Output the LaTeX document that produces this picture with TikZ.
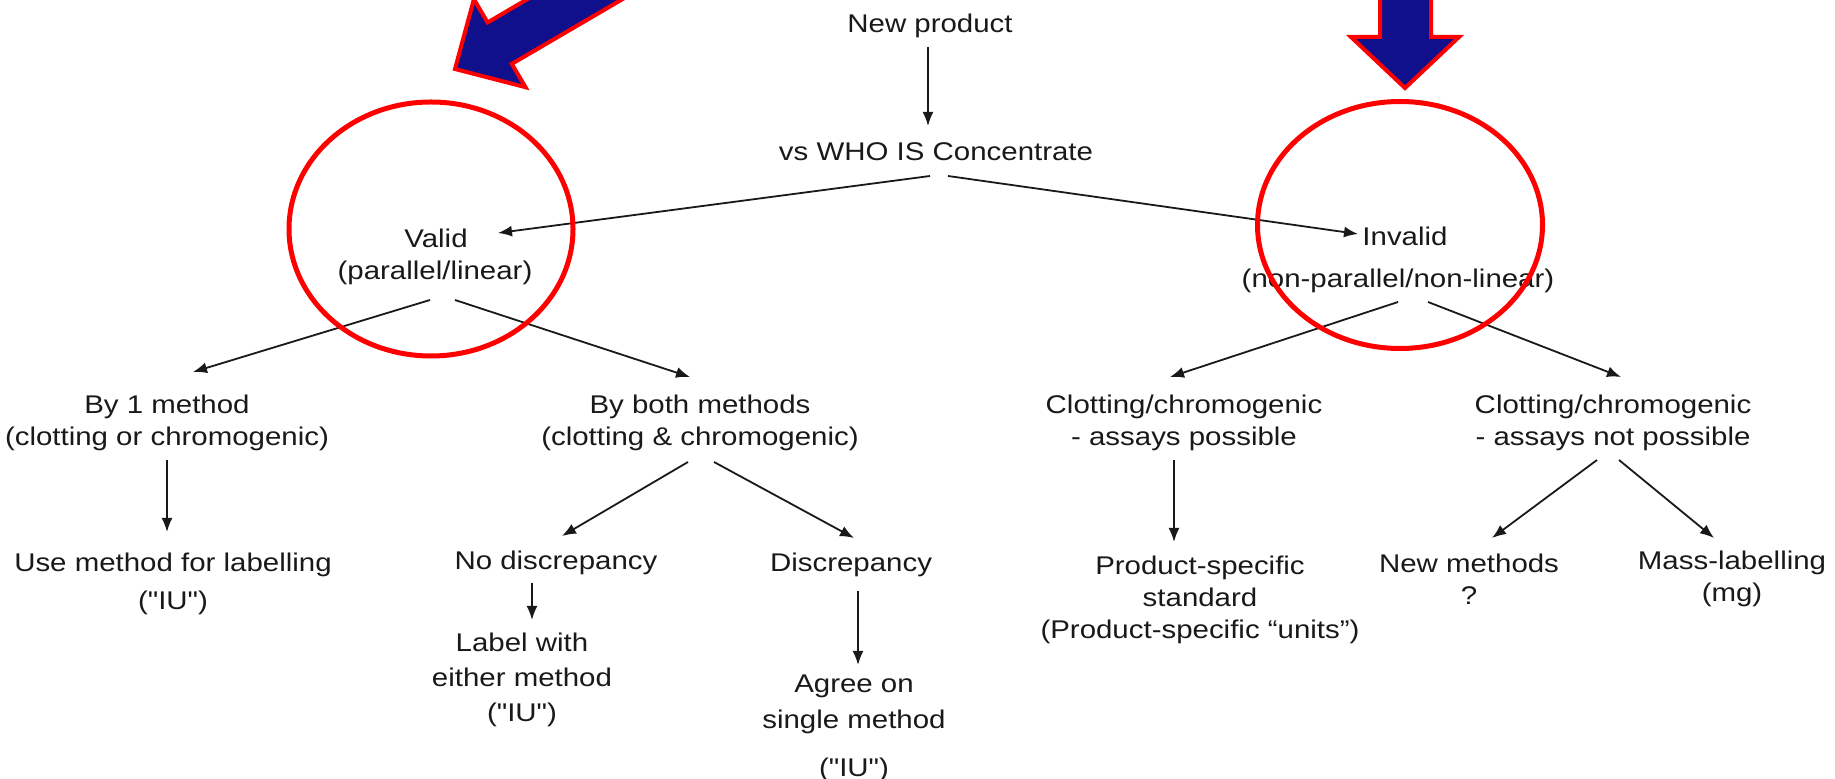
\documentclass[tikz,border=0pt]{standalone}
\usepackage{fontspec}
\setmainfont{Liberation Sans}[FakeStretch=1.15, Ligatures=TeXOff]
\usetikzlibrary{arrows.meta}
\definecolor{arrowblue}{RGB}{16,16,140}
\definecolor{ringred}{RGB}{255,0,0}
\begin{document}
\begin{tikzpicture}[x=0.5pt,y=-0.5pt,
  lbl/.style={font=\fontsize{12.8}{16}\selectfont, align=center, inner sep=0pt, text=black!90},
  arr/.style={-{Latex[length=7pt,width=5.5pt]}, line width=0.9pt, draw=black!90},
  bigarrow/.style={fill=arrowblue, draw=ringred, line width=2pt, line join=miter},
  ring/.style={draw=ringred, line width=2.5pt}]
\useasboundingbox (0,0) rectangle (1835,779);

% text nodes
\node[lbl] (new) at (930,26) {New product};
\node[lbl] (who) at (936,152) {vs WHO IS Concentrate};
\node[lbl] (valid) at (436,238) {Valid};
\node[lbl] (validsub) at (435,273) {(parallel/linear)};
\node[lbl] (invalid) at (1405,236) {Invalid};
\node[lbl] (invalidsub) at (1398,281) {(non-parallel/non-linear)};
\node[lbl] (one) at (167,423) {By 1 method\\(clotting or chromogenic)};
\node[lbl] (both) at (700,423) {By both methods\\(clotting \& chromogenic)};
\node[lbl, font=\fontsize{12.8}{19}\selectfont] (use) at (173,584) {Use method for labelling\\("IU")};
\node[lbl] (nodisc) at (556,563) {No discrepancy};
\node[lbl] (disc) at (851,565) {Discrepancy};
\node[lbl, font=\fontsize{12.8}{17.5}\selectfont] (labelw) at (522,680) {Label with\\either method\\("IU")};
\node[lbl, font=\fontsize{12.8}{18}\selectfont] (agree) at (854,704) {Agree on\\single method};
\node[lbl] (agreeiu) at (854,770) {("IU")};
\node[lbl] (possible) at (1184,423) {Clotting/chromogenic\\- assays possible};
\node[lbl] (notposs) at (1613,423) {Clotting/chromogenic\\- assays not possible};
\node[lbl] (prod) at (1200,600) {Product-specific\\standard\\(Product-specific “units”)};
\node[lbl] (newm) at (1469,579) {New methods\\?};
\node[lbl] (mass) at (1732,579) {Mass-labelling\\(mg)};

% connectors
\draw[arr] ([shift={(-2,21)}]new.center) -- ([shift={(-8,-26)}]who.center);
\draw[arr] ([shift={(-6,24)}]who.center) -- ([shift={(62,-5)}]valid.center);
\draw[arr] ([shift={(12,24)}]who.center) -- ([shift={(-47,-2)}]invalid.center);
\draw[arr] ([shift={(-5,27)}]validsub.center) -- ([shift={(26,-51)}]one.center);
\draw[arr] ([shift={(20,27)}]validsub.center) -- ([shift={(-10,-46)}]both.center);
\draw[arr] ([shift={(0,37)}]one.center) -- ([shift={(-6,-52)}]use.center);
\draw[arr] ([shift={(-12,39)}]both.center) -- ([shift={(6,-27)}]nodisc.center);
\draw[arr] ([shift={(14,39)}]both.center) -- ([shift={(3,-27)}]disc.center);
\draw[arr] ([shift={(-24,20)}]nodisc.center) -- ([shift={(10,-60)}]labelw.center);
\draw[arr] ([shift={(7,26)}]disc.center) -- ([shift={(4,-39)}]agree.center);
\draw[arr] ([shift={(0,21)}]invalidsub.center) -- ([shift={(-14,-46)}]possible.center);
\draw[arr] ([shift={(30,21)}]invalidsub.center) -- ([shift={(8,-46)}]notposs.center);
\draw[arr] ([shift={(-10,37)}]possible.center) -- ([shift={(-26,-58)}]prod.center);
\draw[arr] ([shift={(-16,37)}]notposs.center) -- ([shift={(23,-41)}]newm.center);
\draw[arr] ([shift={(6,37)}]notposs.center) -- ([shift={(-18,-41)}]mass.center);

% highlight rings
\draw[ring] (431,229) ellipse [x radius=142, y radius=127];
\draw[ring] (1400,225) ellipse [x radius=142.5, y radius=123.5];

% big block arrows
\begin{scope}
\clip (0,0) rectangle (1835,779);
\draw[bigarrow] (1380,-10) -- (1380,37) -- (1351,37) -- (1405,88) -- (1459,37) -- (1431,37) -- (1431,-10) -- cycle;
\draw[bigarrow] (455,69) -- (525.5,87.2) -- (511.8,63.9) -- (727,-62) -- (703,-104) -- (487.6,22.5) -- (473.9,-0.8) -- cycle;
\end{scope}
\end{tikzpicture}
\end{document}
